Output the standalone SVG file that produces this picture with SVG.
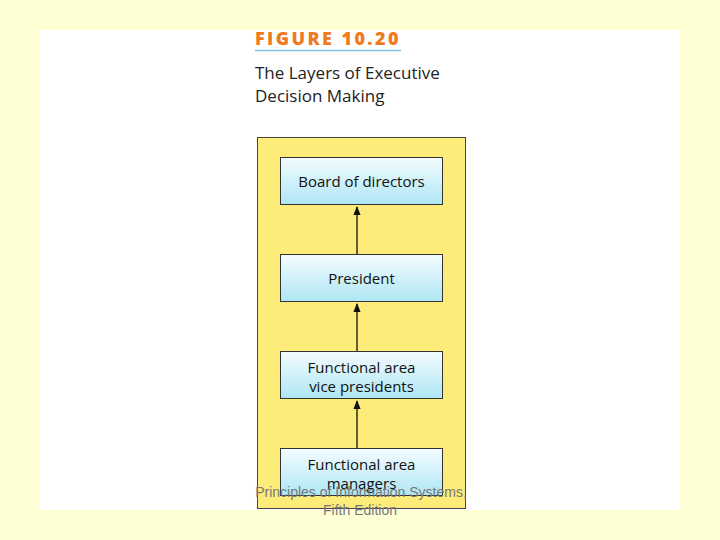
<svg xmlns="http://www.w3.org/2000/svg" width="720" height="540" viewBox="0 0 720 540">
<defs>
<linearGradient id="bx" x1="0" y1="0" x2="0" y2="1">
<stop offset="0" stop-color="#f4fcff"/>
<stop offset="1" stop-color="#aee6f4"/>
</linearGradient>
<marker id="ah" viewBox="0 0 10 10" refX="9" refY="5" markerWidth="7" markerHeight="7" orient="auto">
<path d="M0,1 L10,5 L0,9 Z" fill="#111"/>
</marker>
<style>
.box{fill:url(#bx);stroke:#333;stroke-width:1}
.lbl{font-family:"Open Sans","Liberation Sans",sans-serif;font-size:15px;fill:#111;text-anchor:middle}
.con{stroke:#111;stroke-width:1.3;fill:none;marker-end:url(#ah)}
.foot{font-family:"Liberation Sans",Arial,sans-serif;font-size:14px;fill:#777;text-anchor:middle}
</style>
</defs>
<rect width="720" height="540" fill="#ffffd4"/>
<rect x="40" y="30" width="640" height="480" fill="#ffffff"/>
<text x="255" y="45" font-family="'Open Sans','Liberation Sans',sans-serif" font-weight="900" font-size="18" fill="#f07a1e" letter-spacing="2.4">FIGURE 10.20</text>
<line x1="255" y1="50.5" x2="401" y2="50.5" stroke="#7cc4e4" stroke-width="1.5"/>
<text x="255" y="79" font-family="'Open Sans','Liberation Sans',sans-serif" font-size="17" fill="#222">The Layers of Executive</text>
<text x="255" y="102" font-family="'Open Sans','Liberation Sans',sans-serif" font-size="17" fill="#222">Decision Making</text>
<rect x="257.5" y="137.5" width="208" height="371" fill="#fdeb7a" stroke="#444" stroke-width="1"/>
<g id="connectors">
<line class="con" x1="357" y1="254" x2="357" y2="207"/>
<line class="con" x1="357" y1="351" x2="357" y2="304"/>
<line class="con" x1="357" y1="448" x2="357" y2="401"/>
</g>
<g id="board">
<rect class="box" x="280.5" y="157.5" width="162" height="47"/>
<text class="lbl" x="361.5" y="187">Board of directors</text>
</g>
<g id="president">
<rect class="box" x="280.5" y="254.5" width="162" height="47"/>
<text class="lbl" x="361.5" y="284">President</text>
</g>
<g id="vps">
<rect class="box" x="280.5" y="351.5" width="162" height="47"/>
<text class="lbl" x="361.5" y="373">Functional area</text>
<text class="lbl" x="361.5" y="392">vice presidents</text>
</g>
<g id="managers">
<rect class="box" x="280.5" y="448.5" width="162" height="47"/>
<text class="lbl" x="361.5" y="470">Functional area</text>
<text class="lbl" x="361.5" y="489">managers</text>
</g>
<text class="foot" x="361" y="497">Principles of Information Systems,</text>
<text class="foot" x="360" y="515">Fifth Edition</text>
</svg>
